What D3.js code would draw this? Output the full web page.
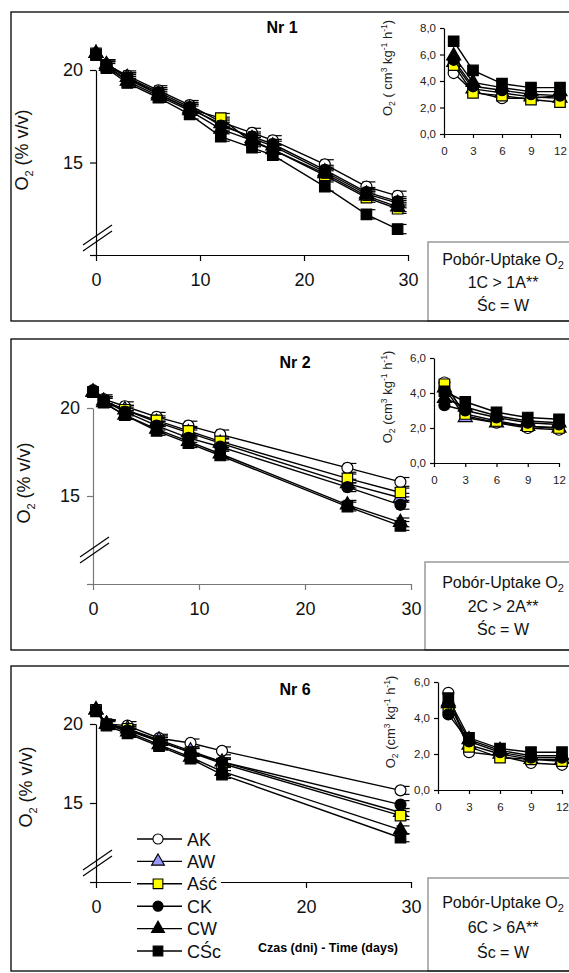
<!DOCTYPE html>
<html>
<head>
<meta charset="utf-8">
<script src="https://cdn.jsdelivr.net/npm/d3@7"></script>
<style>
  body { margin: 0; background: #fff; }
  svg { display: block; font-family: "Liberation Sans", Arial, sans-serif; }
</style>
</head>
<body>
<div id="chart"></div>
<script>
// series order: AK, AW, Aść, CK, CW, CŚc
const seriesNames = ["AK", "AW", "Aść", "CK", "CW", "CŚc"];
const insetDays = [1, 3, 6, 9, 12];

// Nr 1
const daysNr1 = [0, 1, 3, 6, 9, 12, 15, 17, 22, 26, 29];
const o2Nr1 = [
  [20.9, 20.3, 19.7, 18.9, 18.1, 17.2, 16.6, 16.2, 14.9, 13.7, 13.2],
  [20.9, 20.3, 19.6, 18.7, 17.9, 17.1, 16.3, 15.9, 14.5, 13.3, 12.8],
  [20.9, 20.2, 19.5, 18.7, 17.9, 17.4, 16.1, 15.7, 14.3, 13.1, 12.5],
  [20.9, 20.3, 19.6, 18.8, 18.0, 17.0, 16.4, 16.0, 14.6, 13.4, 12.9],
  [20.9, 20.2, 19.4, 18.6, 17.8, 16.8, 16.2, 15.7, 14.4, 13.2, 12.6],
  [20.8, 20.1, 19.3, 18.5, 17.6, 16.4, 15.8, 15.4, 13.7, 12.2, 11.4]
];
const uptakeNr1 = [
  [4.6, 3.2, 2.7, 2.7, 2.9],
  [5.4, 3.4, 3.1, 2.8, 2.7],
  [5.2, 3.1, 2.9, 2.6, 2.4],
  [5.6, 3.6, 3.3, 3.0, 2.9],
  [5.9, 3.9, 3.5, 3.2, 3.2],
  [7.0, 4.8, 3.8, 3.5, 3.5]
];
const boxNr1 = ["1C > 1A**", "Śc = W"];

// Nr 2
const daysNr2 = [0, 1, 3, 6, 9, 12, 24, 29];
const o2Nr2 = [
  [21.0, 20.5, 20.1, 19.5, 19.0, 18.5, 16.6, 15.8],
  [20.9, 20.4, 19.9, 19.2, 18.6, 18.0, 15.7, 14.9],
  [20.9, 20.4, 19.9, 19.3, 18.7, 18.1, 16.0, 15.2],
  [21.0, 20.4, 19.8, 19.0, 18.3, 17.8, 15.5, 14.5],
  [20.9, 20.3, 19.6, 18.8, 18.1, 17.4, 14.5, 13.5],
  [20.9, 20.3, 19.6, 18.7, 18.0, 17.3, 14.4, 13.3]
];
const uptakeNr2 = [
  [4.6, 2.7, 2.3, 2.0, 1.9],
  [4.3, 2.6, 2.3, 2.1, 2.0],
  [4.5, 2.8, 2.4, 2.1, 2.0],
  [3.3, 3.0, 2.6, 2.3, 2.2],
  [3.7, 3.2, 2.7, 2.4, 2.3],
  [4.1, 3.5, 2.9, 2.6, 2.5]
];
const boxNr2 = ["2C > 2A**", "Śc = W"];

// Nr 6
const daysNr6 = [0, 1, 3, 6, 9, 12, 29];
const o2Nr6 = [
  [20.9, 20.0, 19.9, 19.1, 18.8, 18.3, 15.8],
  [20.9, 20.0, 19.7, 19.0, 18.3, 17.6, 14.4],
  [20.9, 20.0, 19.7, 18.9, 18.2, 17.5, 14.2],
  [20.9, 20.0, 19.6, 18.9, 18.2, 17.6, 14.9],
  [20.9, 20.0, 19.5, 18.7, 17.9, 17.0, 13.3],
  [20.8, 19.9, 19.4, 18.6, 17.8, 16.8, 12.8]
];
const uptakeNr6 = [
  [5.4, 2.1, 1.9, 1.5, 1.4],
  [4.9, 2.5, 2.0, 1.7, 1.7],
  [4.6, 2.4, 1.8, 1.7, 1.6],
  [4.2, 2.7, 2.1, 1.8, 1.8],
  [4.8, 2.8, 2.2, 1.9, 1.9],
  [5.1, 2.9, 2.3, 2.1, 2.1]
];
const boxNr6 = ["6C > 6A**", "Śc = W"];

const errBar = 0.25;
const mainXTicks = [0, 10, 20, 30];
const mainYTicks = [10, 15, 20];
const insetXTicks = [0, 3, 6, 9, 12];

const markers = [
  { type: d3.symbolCircle, fill: "#fff", size: 95 },
  { type: d3.symbolTriangle, fill: "#9999ff", size: 85 },
  { type: d3.symbolSquare, fill: "#ffff00", size: 110 },
  { type: d3.symbolCircle, fill: "#000", size: 95 },
  { type: d3.symbolTriangle, fill: "#000", size: 85 },
  { type: d3.symbolSquare, fill: "#000", size: 110 }
];

const panels = [
  { name: "Nr 1", days: daysNr1, o2: o2Nr1, uptake: uptakeNr1, box: boxNr1,
    top: 12, bottom: 321, xr: [96, 408], yr: [255, 70], axis: "#000",
    title: [282, 33], yTitle: [28, 150], brk: 235, hideX: [],
    inX: [444, 560], inY: [134, 28], inTicks: [0, 2, 4, 6, 8], inTitle: [392, 68], inSpace: " ",
    boxX: 428, boxY: 242, lines: [265, 288, 311] },
  { name: "Nr 2", days: daysNr2, o2: o2Nr2, uptake: uptakeNr2, box: boxNr2,
    top: 339, bottom: 650, xr: [93, 411], yr: [584, 408], axis: "#777",
    title: [295, 368], yTitle: [30, 483], brk: 547, hideX: [],
    inX: [434, 559], inY: [463, 358], inTicks: [0, 2, 4, 6], inTitle: [392, 397], inSpace: "",
    boxX: 425, boxY: 562, lines: [588, 612, 635] },
  { name: "Nr 6", days: daysNr6, o2: o2Nr6, uptake: uptakeNr6, box: boxNr6,
    top: 666, bottom: 971, xr: [96, 411], yr: [882, 724], axis: "#000",
    title: [295, 695], yTitle: [32, 787], brk: 860, hideX: [10],
    inX: [438, 562], inY: [790, 682], inTicks: [0, 2, 4, 6], inTitle: [395, 722], inSpace: "",
    boxX: 428, boxY: 878, lines: [908, 933, 958], legend: true }
];

const svg = d3.select("#chart").append("svg")
  .attr("width", 569)
  .attr("height", 973);

function drawPanel(p) {
  const g = svg.append("g");

  // text box
  g.append("rect")
    .attr("x", p.boxX).attr("y", p.boxY)
    .attr("width", 200).attr("height", p.bottom - p.boxY)
    .attr("fill", "#fff").attr("stroke", "#999").attr("stroke-width", 1.5);

  const t0 = g.append("text").attr("x", 503).attr("y", p.lines[0])
    .attr("text-anchor", "middle").attr("font-size", 16).attr("fill", "#111");
  t0.append("tspan").text("Pobór-Uptake O");
  t0.append("tspan").attr("dy", 4).attr("font-size", 11).text("2");
  p.box.forEach((s, i) => {
    g.append("text").attr("x", 503).attr("y", p.lines[i + 1])
      .attr("text-anchor", "middle").attr("font-size", 16).attr("fill", "#111")
      .text(s);
  });

  // frame
  g.append("rect")
    .attr("x", 11).attr("y", p.top)
    .attr("width", 600).attr("height", p.bottom - p.top)
    .attr("fill", "none").attr("stroke", "#000").attr("stroke-width", 1.3);

  g.append("text").attr("x", p.title[0]).attr("y", p.title[1])
    .attr("text-anchor", "middle").attr("font-size", 16).attr("font-weight", "bold")
    .text(p.name);

  // main chart
  const x = d3.scaleLinear().domain([0, 30]).range(p.xr);
  const y = d3.scaleLinear().domain([10, 20]).range(p.yr);

  const xAxis = g.append("g")
    .attr("transform", `translate(0,${p.yr[0]})`)
    .call(d3.axisBottom(x).tickValues(mainXTicks).tickSize(6).tickSizeOuter(0).tickPadding(12)
      .tickFormat(d => p.hideX.includes(d) ? "" : d));
  const yAxis = g.append("g")
    .attr("transform", `translate(${p.xr[0]},0)`)
    .call(d3.axisLeft(y).tickValues(mainYTicks).tickSize(6).tickSizeOuter(0).tickPadding(7)
      .tickFormat(d => d === 10 ? "" : d));
  [xAxis, yAxis].forEach(a => {
    a.attr("font-family", null).attr("font-size", 18);
    a.selectAll("path, line").attr("stroke", p.axis).attr("stroke-width", 1.2);
    a.selectAll("text").attr("fill", "#111");
  });

  // axis break
  [0, 6].forEach(off => {
    g.append("line")
      .attr("x1", p.xr[0] - 13).attr("y1", p.brk + off + 10)
      .attr("x2", p.xr[0] + 16).attr("y2", p.brk + off - 10)
      .attr("stroke", "#000").attr("stroke-width", 1.2);
  });

  const yt = g.append("text")
    .attr("transform", `translate(${p.yTitle[0]},${p.yTitle[1]}) rotate(-90)`)
    .attr("text-anchor", "middle").attr("font-size", 18).attr("fill", "#111");
  yt.append("tspan").text("O");
  yt.append("tspan").attr("dy", 5).attr("font-size", 11).text("2");
  yt.append("tspan").attr("dy", -5).text(" (% v/v)");

  const line = d3.line().x(d => x(d[0])).y(d => y(d[1]));

  p.o2.forEach((vals, si) => {
    const pts = p.days.map((d, i) => [d, vals[i]]);
    const sg = g.append("g");
    sg.append("path").datum(pts).attr("d", line)
      .attr("fill", "none").attr("stroke", "#000").attr("stroke-width", 1.4);
    // error bars
    pts.slice(1).forEach(d => {
      const cx = x(d[0]);
      sg.append("line").attr("x1", cx).attr("x2", cx)
        .attr("y1", y(d[1] - errBar)).attr("y2", y(d[1] + errBar))
        .attr("stroke", "#000").attr("stroke-width", 1.2);
      [d[1] - errBar, d[1] + errBar].forEach(v => {
        sg.append("line").attr("x1", cx - 4).attr("x2", cx + 9)
          .attr("y1", y(v)).attr("y2", y(v))
          .attr("stroke", "#000").attr("stroke-width", 1.2);
      });
    });
    sg.selectAll("path.m").data(pts).enter().append("path")
      .attr("class", "m")
      .attr("transform", d => `translate(${x(d[0])},${y(d[1])})`)
      .attr("d", d3.symbol().type(markers[si].type).size(markers[si].size))
      .attr("fill", markers[si].fill).attr("stroke", "#000").attr("stroke-width", 1.2);
  });

  // inset
  const ix = d3.scaleLinear().domain([0, 12]).range(p.inX);
  const iy = d3.scaleLinear().domain([0, d3.max(p.inTicks)]).range(p.inY);
  const ixAxis = g.append("g")
    .attr("transform", `translate(0,${p.inY[0]})`)
    .call(d3.axisBottom(ix).tickValues(insetXTicks).tickSize(4).tickSizeOuter(0).tickPadding(9));
  const iyAxis = g.append("g")
    .attr("transform", `translate(${p.inX[0]},0)`)
    .call(d3.axisLeft(iy).tickValues(p.inTicks).tickSize(4).tickSizeOuter(0).tickPadding(4)
      .tickFormat(d => d3.format(".1f")(d).replace(".", ",")));
  [ixAxis, iyAxis].forEach(a => {
    a.attr("font-family", null).attr("font-size", 11.5);
    a.selectAll("path, line").attr("stroke", "#000").attr("stroke-width", 1.2);
    a.selectAll("text").attr("fill", "#222");
  });

  const it = g.append("text")
    .attr("transform", `translate(${p.inTitle[0]},${p.inTitle[1]}) rotate(-90)`)
    .attr("text-anchor", "middle").attr("font-size", 13).attr("fill", "#222");
  it.append("tspan").text("O");
  it.append("tspan").attr("dy", 3).attr("font-size", 8.5).text("2");
  it.append("tspan").attr("dy", -3).text(" (" + p.inSpace + "cm");
  it.append("tspan").attr("dy", -5).attr("font-size", 8.5).text("3");
  it.append("tspan").attr("dy", 5).text(" kg");
  it.append("tspan").attr("dy", -5).attr("font-size", 8.5).text("-1");
  it.append("tspan").attr("dy", 5).text(" h");
  it.append("tspan").attr("dy", -5).attr("font-size", 8.5).text("-1");
  it.append("tspan").attr("dy", 5).text(")");

  const iline = d3.line().x(d => ix(d[0])).y(d => iy(d[1]));
  p.uptake.forEach((vals, si) => {
    const pts = insetDays.map((d, i) => [d, vals[i]]);
    g.append("path").datum(pts).attr("d", iline)
      .attr("fill", "none").attr("stroke", "#000").attr("stroke-width", 1.4);
    g.selectAll(null).data(pts).enter().append("path")
      .attr("transform", d => `translate(${ix(d[0])},${iy(d[1])})`)
      .attr("d", d3.symbol().type(markers[si].type).size(markers[si].size))
      .attr("fill", markers[si].fill).attr("stroke", "#000").attr("stroke-width", 1.2);
  });

  if (p.legend) {
    g.append("rect").attr("x", 131).attr("y", 826).attr("width", 90).attr("height", 138)
      .attr("fill", "#fff");
    seriesNames.forEach((name, i) => {
      const ly = 839 + i * 22.4;
      g.append("line").attr("x1", 137).attr("x2", 182).attr("y1", ly).attr("y2", ly)
        .attr("stroke", "#000").attr("stroke-width", 1.4);
      g.append("path").attr("transform", `translate(158,${ly})`)
        .attr("d", d3.symbol().type(markers[i].type).size(markers[i].size * 0.85))
        .attr("fill", markers[i].fill).attr("stroke", "#000").attr("stroke-width", 1.1);
      g.append("text").attr("x", 187).attr("y", ly + 6.5)
        .attr("font-size", 18).attr("fill", "#111").text(name);
    });
    g.append("text").attr("x", 328).attr("y", 952)
      .attr("text-anchor", "middle").attr("font-size", 12.5).attr("font-weight", "bold")
      .text("Czas (dni) - Time (days)");
  }
}

panels.forEach(drawPanel);
</script>
</body>
</html>
